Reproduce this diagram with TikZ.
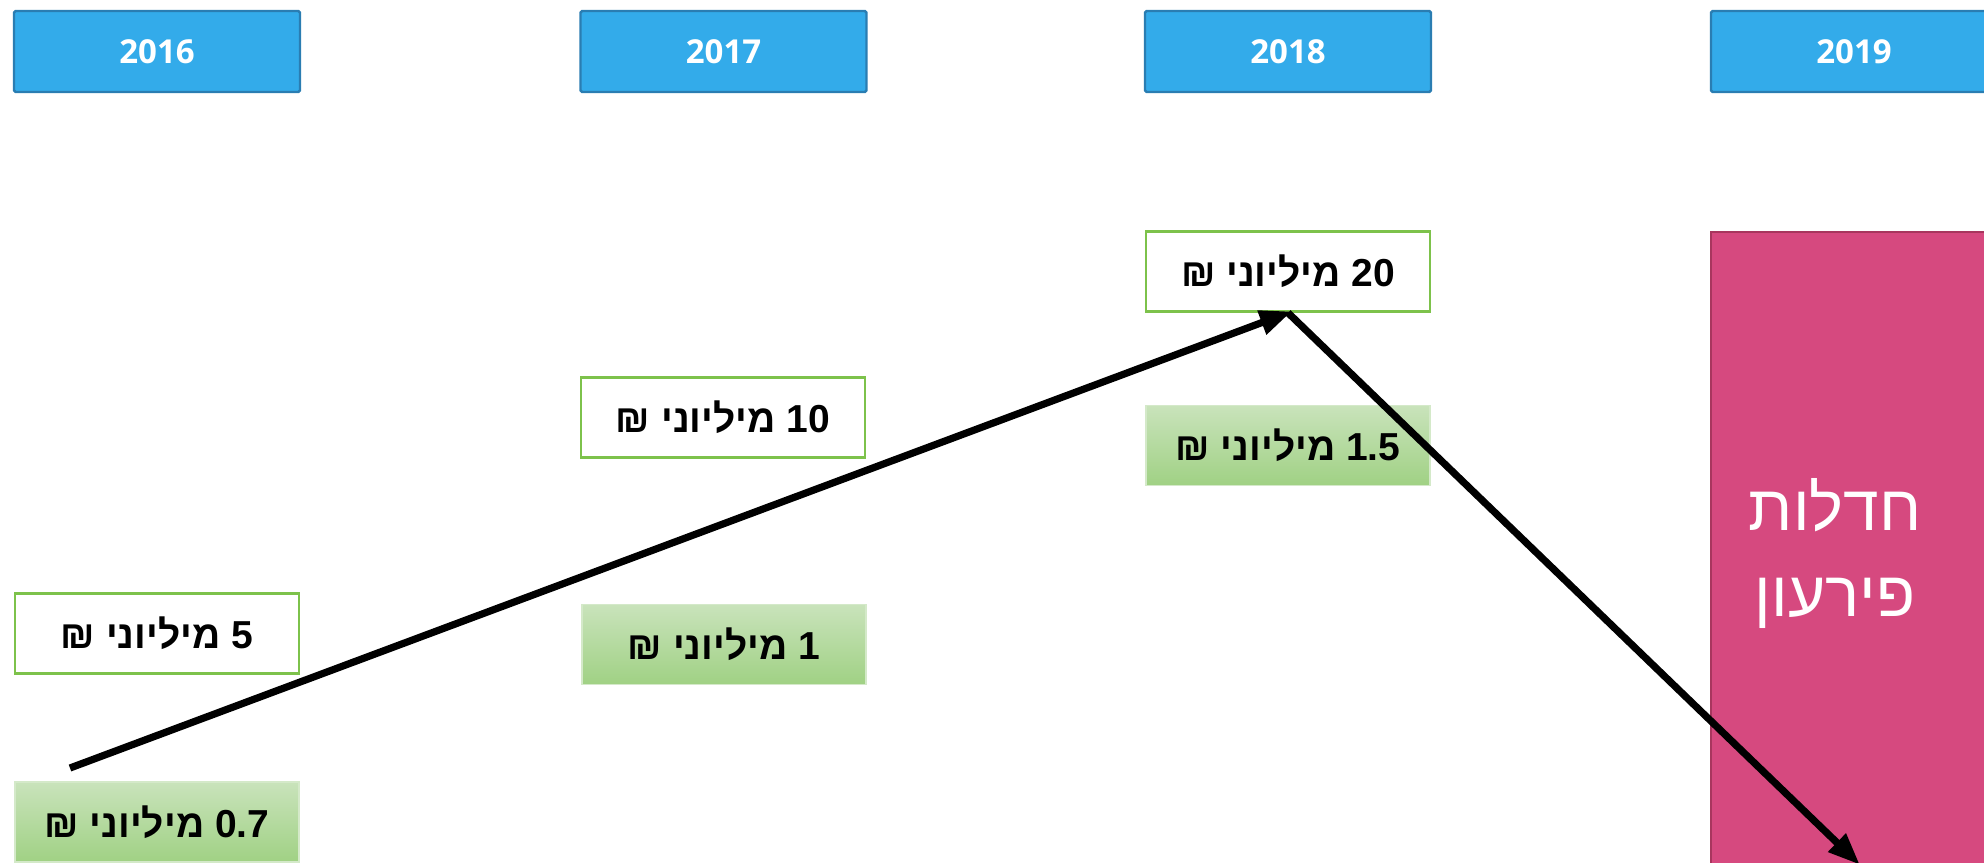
\documentclass[tikz,border=0pt]{standalone}
\usepackage{fontspec}
\setmainfont{Liberation Sans}
\newfontfamily\hebfont[Script=Hebrew]{Liberation Sans}
\newfontfamily\yearfont{Open Sans}
\TeXXeTstate=1
\usetikzlibrary{arrows.meta}
\definecolor{yearblue}{HTML}{33ABEA}
\definecolor{yearedge}{HTML}{2A7DB2}
\definecolor{boxgreen}{HTML}{7DC24B}
\definecolor{gtop}{HTML}{C9E3BB}
\definecolor{gbot}{HTML}{A0D184}
\definecolor{pinkfill}{HTML}{D6497F}
\definecolor{pinkedge}{HTML}{A8365E}
\begin{document}
\begin{tikzpicture}[x=0.5pt,y=-0.5pt,
  yearbox/.style={draw=yearedge,line width=1.2pt,fill=yearblue,minimum width=143pt,minimum height=40.5pt,inner sep=0pt,rounded corners=0.8pt,text=white,font=\yearfont\bfseries\fontsize{16.5}{18}\selectfont},
  amountbox/.style={draw=boxgreen,line width=1.3pt,fill=white,minimum width=142pt,minimum height=40pt,inner sep=0pt,font=\hebfont\bfseries\fontsize{19.5}{22}\selectfont},
  gradbox/.style={top color=gtop,bottom color=gbot,draw=gtop!80!white,line width=0.6pt,minimum width=142pt,minimum height=40pt,inner sep=0pt,font=\hebfont\bfseries\fontsize{19.5}{22}\selectfont},
  pinkbox/.style={fill=pinkfill,draw=pinkedge,line width=1.2pt,minimum width=143pt,minimum height=317pt,inner sep=0pt},
  bigarrow/.style={line width=3.6pt,-{Triangle[length=16pt,width=12pt]},shorten >=-2pt}
]
\useasboundingbox (0,0) rectangle (1984,862);
\clip (0,0) rectangle (1984,862);
% year headers
\node[yearbox] (y16) at (157,51.5) {2016};
\node[yearbox] (y17) at (723.5,51.5) {2017};
\node[yearbox] (y18) at (1288,51.5) {2018};
\node[yearbox] (y19) at (1854,51.5) {2019};
% amounts
\node[amountbox] (a20) at (1288,271.5) {\beginR\beginL 20\endL{} מיליוני ₪\endR};
\node[amountbox] (a10) at (723,417.5) {\beginR\beginL 10\endL{} מיליוני ₪\endR};
\node[gradbox] (a15) at (1288,445.5) {\beginR\beginL 1.5\endL{} מיליוני ₪\endR};
\node[amountbox] (a5) at (157,633.5) {\beginR\beginL 5\endL{} מיליוני ₪\endR};
\node[gradbox] (a1) at (724,644.5) {\beginR\beginL 1\endL{} מיליוני ₪\endR};
\node[gradbox] (a07) at (157,822) {\beginR\beginL 0.7\endL{} מיליוני ₪\endR};
% insolvency
\node[pinkbox] (ins) at (1854,549) {};
\node[text=white,align=center,font=\hebfont\fontsize{32}{43}\selectfont] (instext) at (1835,553) {\beginR חדלות\endR\\\beginR פירעון\endR};
% arrows
\coordinate (start) at (70,768);
\coordinate (end) at (1857,862);
\draw[bigarrow] (start) -- (a20.south);
\draw[bigarrow] (a20.south) -- (end);
\end{tikzpicture}
\end{document}
